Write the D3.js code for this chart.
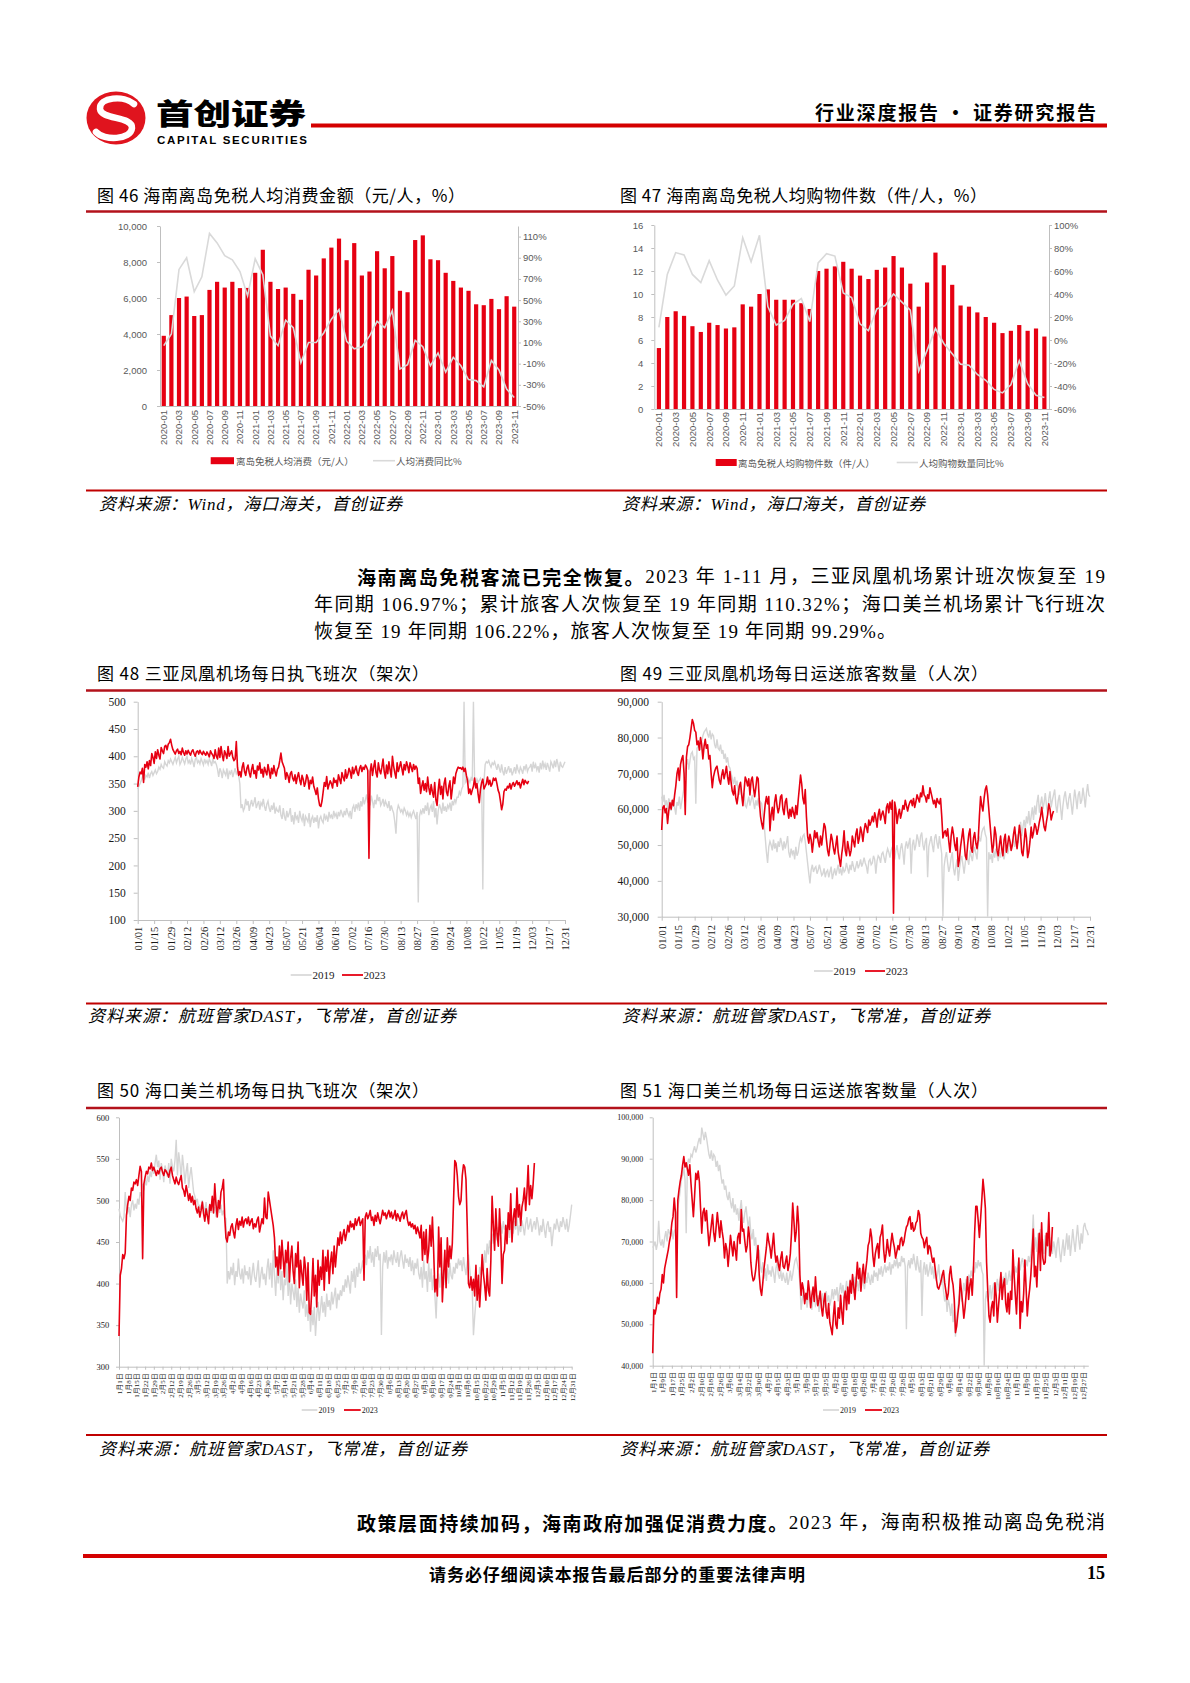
<!DOCTYPE html>
<html><head><meta charset="utf-8">
<script src="https://cdn.jsdelivr.net/npm/d3@7"></script>
<style>body{margin:0;background:#fff;} svg{display:block;}</style>
</head><body>
<script>
// ---------------- DATA ----------------
const months = ["2020-01","2020-02","2020-03","2020-04","2020-05","2020-06","2020-07","2020-08","2020-09","2020-10","2020-11","2020-12",
"2021-01","2021-02","2021-03","2021-04","2021-05","2021-06","2021-07","2021-08","2021-09","2021-10","2021-11","2021-12",
"2022-01","2022-02","2022-03","2022-04","2022-05","2022-06","2022-07","2022-08","2022-09","2022-10","2022-11","2022-12",
"2023-01","2023-02","2023-03","2023-04","2023-05","2023-06","2023-07","2023-08","2023-09","2023-10","2023-11"];
const spendPerCap = [3900,5050,6000,6080,5000,5050,6450,6900,6580,6900,6550,6560,7400,8680,6900,6500,6580,6230,5900,7570,7250,8200,8800,9300,8100,9050,7250,7470,8600,7650,8330,6400,6320,9220,9480,8150,8100,7400,6950,6580,6400,5650,5600,5950,5380,6100,5520];
const spendYoY = [7,18,79,90,58,72,113,104,92,88,77,54,89,74,16,7,31,24,-9,10,10,19,32,41,11,4,6,16,30,24,40,-15,-11,12,6,-12,0,-18,-4,-12,-25,-26,-32,-7,-16,-34,-42];
const itemsPerCap = [5.3,8.0,8.5,8.1,7.2,6.7,7.5,7.3,7.0,7.1,9.1,8.9,10.0,10.4,9.5,9.5,9.5,9.2,8.7,12.0,12.2,12.4,12.8,12.2,11.6,11.3,12.1,12.3,13.3,12.3,10.9,8.9,11.0,13.6,12.5,10.8,9.0,8.9,8.4,8.0,7.5,6.6,6.8,7.3,6.8,7.0,6.3];
const itemsYoY = [11,57,76,74,57,50,69,52,39,47,89,68,91,29,13,17,31,36,16,67,75,73,41,37,14,8,27,30,40,33,26,-27,-9,10,-3,-12,-21,-22,-30,-35,-43,-46,-39,-18,-38,-48,-50];

const ticks48 = ["01/01","01/15","01/29","02/12","02/26","03/12","03/26","04/09","04/23","05/07","05/21","06/04","06/18","07/02","07/16","07/30","08/13","08/27","09/10","09/24","10/08","10/22","11/05","11/19","12/03","12/17","12/31"];
const ticks50 = ["1月1日","1月8日","1月15日","1月22日","1月29日","2月5日","2月12日","2月19日","2月26日","3月5日","3月12日","3月19日","3月26日","4月2日","4月9日","4月16日","4月23日","4月30日","5月7日","5月14日","5月21日","5月28日","6月4日","6月11日","6月18日","6月25日","7月2日","7月9日","7月16日","7月23日","7月30日","8月6日","8月13日","8月20日","8月27日","9月3日","9月10日","9月17日","9月24日","10月1日","10月8日","10月15日","10月22日","10月29日","11月5日","11月12日","11月19日","11月26日","12月3日","12月10日","12月17日","12月24日","12月31日"];
const ticks51 = ["1月1日","1月9日","1月17日","1月25日","2月2日","2月10日","2月18日","2月26日","3月6日","3月14日","3月22日","3月30日","4月7日","4月15日","4月23日","5月1日","5月9日","5月17日","5月25日","6月2日","6月10日","6月18日","6月26日","7月4日","7月12日","7月20日","7月28日","8月5日","8月13日","8月21日","8月29日","9月6日","9月14日","9月22日","9月30日","10月8日","10月16日","10月24日","11月1日","11月9日","11月17日","11月25日","12月3日","12月11日","12月19日","12月27日"];

// daily values, one inner array per month
const sanyaFlights2019 = [
[340,345,350,355,362,360,358,365,362,370,360,368,372,365,370,375,368,372,380,376,385,380,378,390,385,382,392,388,395,390,385],
[392,398,388,395,400,385,390,398,392,386,395,400,388,392,385,396,390,380,394,398,388,392,386,396,390,384,395,388],
[392,385,395,390,382,396,388,390,385,376,362,378,372,360,375,370,365,378,358,372,368,375,362,370,378,368,372,365,350,305,312],
[300,305,322,310,318,300,312,320,308,315,325,305,312,318,302,315,310,322,308,300,312,318,305,298,310,302,315,295,305,300],
[298,310,292,285,305,290,282,300,288,295,305,280,292,275,298,285,290,278,300,288,282,295,272,290,285,280,296,270,285,290,278],
[288,280,292,268,285,290,282,278,295,285,290,280,298,288,292,285,300,290,295,285,298,290,302,295,288,300,292,305,296,290],
[300,285,305,310,298,312,305,315,300,318,308,325,312,320,330,315,322,310,328,318,305,320,312,330,318,325,310,315,322,308,318],
[312,305,318,300,310,302,296,280,258,300,310,305,298,302,295,305,300,292,298,290,296,288,295,300,292,285,298,132,290,300,295],
[305,295,310,300,315,292,305,310,298,318,288,305,275,300,312,305,295,315,300,308,298,310,305,315,300,318,310,322,315,325],
[325,335,330,340,345,500,352,356,350,358,352,360,355,500,355,350,358,352,356,360,354,156,355,385,390,388,392,385,380,388,385],
[390,382,375,386,378,370,385,372,365,380,368,375,382,370,378,365,372,380,368,385,375,370,380,375,368,382,376,385,372,378],
[380,386,372,390,378,385,375,382,370,388,376,392,380,386,375,388,380,372,390,385,378,392,380,395,385,372,390,382,380,385,390]];
const sanyaFlights2023 = [
[344,362,371,368,378,352,385,380,390,377,392,383,405,398,387,408,396,412,402,395,416,410,405,418,420,412,422,425,431,420,412],
[408,404,410,413,405,409,403,415,407,402,410,404,411,406,402,409,412,405,400,408,410,404,411,406,403,409,405,402],
[408,404,399,410,405,402,396,412,400,395,415,398,418,402,392,410,404,396,418,400,405,410,398,392,395,427,380,365,372,362,380],
[388,372,365,378,384,370,362,376,385,368,374,360,382,375,388,369,376,362,380,372,366,385,373,360,378,368,383,371,364,376],
[380,392,406,390,384,378,358,370,364,352,368,372,360,355,366,350,362,370,357,348,365,358,345,352,366,360,340,356,350,362,345],
[338,330,342,322,310,308,318,335,352,345,363,340,348,355,350,342,360,352,356,345,366,358,350,370,362,355,375,360,366,378],
[372,360,380,368,375,382,370,365,378,383,372,380,376,384,380,374,213,372,386,365,380,392,370,362,388,375,368,380,395,372,360],
[384,368,390,375,362,400,382,370,360,388,372,380,390,378,366,385,375,390,382,370,388,380,372,385,376,382,378,350,360,332,345],
[355,338,350,335,362,342,330,348,335,325,352,320,310,338,358,330,345,322,350,360,335,328,345,355,322,340,362,350,368,375],
[380,378,379,376,380,372,378,365,355,332,340,330,338,345,360,342,350,330,315,340,352,358,340,345,350,362,348,356,345,350,360],
[356,360,350,338,332,318,302,312,335,340,338,345,342,350,340,348,352,345,350,355,348,352,342,350,358,348,356,352,350,355]];

// passengers in thousands
const sanyaPax2019 = [
[63.5,62.0,64.0,61.0,62.5,60.0,63.0,62.0,59.5,61.5,63.0,60.5,58.5,62.0,61.0,63.5,60.0,62.0,64.0,66.0,70.0,72.5,74.0,71.0,73.5,75.5,76.0,74.0,74.5,61.5,77.0],
[77.5,78.0,76.5,79.0,80.5,81.5,82.0,82.5,81.0,80.0,82.0,79.5,81.0,80.5,78.0,77.0,79.5,77.0,76.5,78.0,75.5,76.5,74.0,75.5,73.0,74.5,72.0,71.5],
[70.0,68.5,67.0,69.0,66.5,68.0,65.0,64.0,66.5,63.5,62.0,64.5,61.0,60.5,62.0,63.5,61.0,62.5,64.0,62.0,60.0,62.5,61.0,63.0,60.5,62.0,61.5,58.0,56.0,52.0,48.0],
[45.0,49.5,51.0,50.0,48.5,51.5,49.0,50.5,48.0,51.0,49.5,52.0,50.5,48.5,51.0,49.0,50.5,52.5,48.0,46.5,49.0,47.5,48.5,46.0,49.5,47.0,48.0,50.5,52.0,51.0],
[52.5,53.0,51.0,48.0,45.0,42.0,39.3,43.0,44.5,42.5,43.5,44.0,42.0,43.0,44.5,43.0,41.5,42.0,43.5,41.0,42.5,43.0,41.0,42.5,44.0,40.5,42.0,43.5,41.5,43.0,44.5],
[42.0,43.5,41.5,44.0,42.5,43.0,45.0,43.5,42.0,44.5,43.0,45.5,44.0,42.5,44.0,45.5,43.5,44.5,46.0,44.0,45.0,46.5,45.0,44.0,42.0,45.5,46.0,44.5,45.0,47.0],
[46.0,42.0,45.5,47.0,46.5,45.0,47.5,48.0,46.5,45.0,47.5,49.0,48.0,46.5,48.5,49.5,47.0,46.0,48.5,50.0,47.5,46.0,49.0,50.5,48.0,44.5,49.5,51.0,49.0,50.5,52.0],
[42.0,50.0,51.5,48.5,50.0,53.0,51.5,49.5,52.5,53.5,50.0,48.5,51.0,52.0,41.0,49.5,51.0,52.5,50.0,48.0,52.0,53.0,50.5,49.0,52.5,50.0,47.5,30.0,44.0,46.5,48.0],
[45.0,42.5,44.0,46.5,48.0,43.5,41.5,44.0,46.0,40.0,43.0,45.5,47.0,44.5,42.0,45.0,47.5,46.0,44.5,48.5,47.0,45.5,48.0,49.5,47.5,46.0,50.5,52.0,51.0,53.5],
[54.5,55.0,53.0,52.0,30.0,48.0,46.0,47.5,45.0,48.5,46.5,49.0,47.0,45.5,48.0,46.5,49.5,47.0,46.0,48.5,50.0,47.5,49.0,51.0,48.5,50.5,52.0,49.5,51.5,53.0,50.5],
[54.0,56.5,52.5,55.0,57.0,54.5,58.0,56.0,59.5,55.5,58.0,60.5,57.0,61.0,58.5,62.0,64.0,59.0,61.5,63.5,60.0,62.0,64.5,61.0,58.5,63.0,65.0,60.5,62.5,64.0],
[65.5,61.0,59.0,62.5,64.0,60.5,57.0,61.0,63.5,65.0,62.0,60.0,63.0,64.5,61.5,58.5,62.0,65.5,63.0,60.0,64.0,65.0,61.5,62.5,66.0,63.5,60.5,64.5,67.0,64.0,63.5]];
const sanyaPax2023 = [
[54.2,60.5,61.0,59.0,60.2,56.0,59.5,61.8,60.0,62.5,61.0,64.0,66.5,70.0,71.5,68.0,72.5,74.0,75.0,70.0,58.5,74.5,77.5,78.0,80.0,82.5,85.0,84.0,82.0,81.5,78.0],
[79.0,76.5,80.0,78.0,74.0,77.5,79.5,77.0,78.0,74.0,75.0,70.0,66.0,69.0,70.5,71.5,72.0,70.0,68.0,67.0,69.5,71.0,68.5,70.0,72.0,69.0,67.0,70.5],
[67.5,65.0,64.0,66.5,63.0,61.5,64.0,66.5,67.5,64.0,61.0,65.0,69.0,68.0,66.5,68.5,64.0,68.0,69.0,66.0,63.5,66.0,69.0,68.5,62.0,58.0,56.0,54.5,58.0,61.5,63.5],
[61.5,63.5,54.0,58.5,60.5,57.0,62.0,64.0,61.0,59.0,60.5,63.5,64.0,60.0,58.5,62.0,63.0,59.5,57.5,60.0,58.0,60.5,59.0,57.5,61.0,58.5,62.5,66.0,69.5,67.0],
[63.0,61.5,65.5,58.0,52.5,50.5,53.0,51.5,48.0,51.0,54.0,52.0,53.5,51.0,49.5,52.5,50.0,53.0,56.0,55.0,51.5,48.5,47.0,50.0,53.0,51.5,49.0,47.5,50.0,52.5,48.0],
[46.0,44.0,47.5,50.0,54.0,48.5,47.0,51.0,49.0,47.0,48.5,52.5,51.0,49.5,53.0,54.5,50.5,52.0,55.0,53.5,51.0,54.0,56.0,55.0,53.5,57.0,55.5,56.5,58.0,56.5],
[59.0,57.5,55.0,58.5,60.0,57.0,58.5,59.5,58.0,56.0,60.5,61.5,59.0,62.0,60.0,62.5,31.0,62.0,60.0,56.0,58.5,60.0,57.5,59.0,61.0,60.0,62.5,61.0,59.5,61.0,62.0],
[62.5,61.0,63.0,60.5,62.0,64.0,63.0,62.0,64.5,63.5,66.5,64.0,63.5,62.0,64.0,63.0,66.0,64.5,63.0,61.5,62.5,60.5,63.0,62.0,61.5,63.0,58.0,52.0,53.5,54.0,52.5],
[54.5,51.0,48.0,52.5,55.0,53.0,50.0,48.5,52.0,44.0,46.0,49.5,52.0,54.5,51.0,47.0,46.0,50.0,53.0,54.5,49.0,48.0,52.0,53.5,50.5,49.0,51.5,58.0,63.5,61.0],
[59.5,63.0,65.5,66.5,64.0,60.0,56.0,52.0,48.0,50.0,55.0,53.0,48.5,47.0,50.0,52.5,49.0,47.0,51.5,53.0,48.0,50.0,52.5,51.0,48.5,50.0,53.0,55.0,51.5,49.0,52.0],
[55.5,53.0,48.0,47.0,50.5,54.5,52.0,46.5,48.0,51.0,55.0,52.0,53.5,56.0,55.0,53.0,54.5,56.5,58.0,60.5,57.5,55.0,54.0,56.5,58.5,61.5,60.0,57.0,58.5,59.5]];

const haikouFlights2019 = [
[490,482,478,475,480,510,488,485,492,480,495,500,488,496,490,502,495,510,505,520,512,525,518,530,522,535,528,540,532,545,555],
[540,548,525,545,538,522,542,535,528,545,520,550,540,535,548,573,530,558,545,525,555,540,520,535,545,515,530,540],
[525,510,505,498,502,490,495,488,500,492,485,498,480,490,495,485,502,488,492,480,498,490,485,495,482,488,480,478,400,415,405],
[420,410,425,398,415,408,430,412,405,418,400,422,410,415,405,420,398,412,425,408,402,415,428,395,410,420,405,412,398,418],
[430,405,425,395,440,410,385,420,400,430,392,415,380,405,398,425,385,410,375,400,390,380,405,372,395,365,388,378,370,392,360],
[375,355,380,342,368,350,372,337,362,378,355,370,385,365,378,360,388,372,380,368,390,375,385,395,370,388,380,392,385,398],
[390,405,395,410,400,388,415,402,418,395,420,408,425,412,418,428,410,435,422,440,430,445,425,438,420,442,432,445,428,436,338],
[420,438,425,440,418,432,428,435,422,440,430,425,438,420,432,440,428,418,435,425,430,420,432,415,428,410,425,418,430,412,405],
[420,395,428,405,415,390,425,402,418,392,410,385,358,400,412,395,420,405,398,415,402,418,400,425,410,405,420,412,425,418],
[430,422,428,415,432,420,410,425,435,418,402,395,338,360,380,405,395,420,410,432,415,440,425,448,435,452,440,460,448,455,465],
[452,468,458,472,460,475,465,470,462,478,455,468,472,460,475,465,480,458,470,462,476,468,458,472,480,465,470,478,462,470],
[475,465,480,472,458,470,462,478,465,455,470,475,462,468,445,460,472,465,478,470,462,475,468,480,472,465,478,462,470,482,495]];
const haikouFlights2023 = [
[337,410,418,435,430,437,482,495,505,500,515,512,522,520,525,518,530,541,535,430,520,528,535,532,540,538,545,536,540,535,530],
[536,532,538,540,534,530,537,535,532,528,536,540,530,525,520,528,522,519,525,530,515,512,505,518,510,500,508,498],
[505,495,500,490,485,492,480,488,498,484,475,490,482,472,495,488,505,485,520,495,480,500,490,510,515,525,480,455,450,462,458],
[468,472,462,455,470,478,465,475,470,480,468,476,478,472,480,470,475,478,466,472,468,476,480,462,470,478,472,503,480,478],
[510,500,490,480,470,455,420,432,410,445,418,452,430,408,440,425,450,402,430,445,415,400,436,420,450,395,428,412,398,432,418],
[380,425,365,363,392,430,385,410,372,428,398,420,405,440,392,432,415,440,400,425,438,412,445,420,438,455,446,462,448,458],
[465,452,460,470,462,475,468,472,465,478,470,476,480,470,474,478,404,480,485,478,482,488,476,480,470,482,475,485,478,472,480],
[488,482,485,478,484,488,480,486,478,482,488,476,484,480,475,482,486,478,484,488,476,470,474,468,472,466,470,460,468,462,455],
[470,428,462,435,465,425,440,470,445,480,440,390,405,385,468,420,455,378,410,440,395,455,420,445,430,448,500,548,545,530],
[505,495,500,530,543,540,525,470,400,395,408,392,405,385,422,380,410,372,400,435,412,398,380,418,392,385,428,505,470,440,490],
[460,445,490,455,400,435,440,470,448,485,465,508,450,478,490,470,515,480,495,470,492,500,515,488,510,542,495,518,502,520],
[545]];

const haikouPax2019 = [
[68.5,69.0,70.0,68.0,69.5,75.0,70.0,69.0,70.5,68.5,71.0,72.5,70.0,73.0,72.0,71.5,73.0,70.5,72.5,73.0,77.0,78.5,80.0,82.5,85.0,86.0,88.0,85.0,72.0,88.5,90.0],
[89.0,91.0,90.5,92.0,93.0,91.5,92.5,94.0,95.0,93.5,97.5,96.0,94.5,96.5,95.0,93.0,91.0,90.0,92.0,89.5,91.0,90.5,88.0,89.5,87.0,88.5,86.0,84.0],
[85.0,82.5,83.5,81.0,80.0,82.0,79.5,78.0,80.5,77.0,79.0,76.5,78.0,75.0,77.5,80.0,76.0,74.5,77.0,78.5,75.5,73.0,76.0,72.0,70.5,73.0,69.0,71.0,67.0,65.5,68.0],
[64.0,62.5,65.0,61.0,63.5,60.5,64.5,62.0,63.0,61.5,64.0,62.5,60.0,63.5,65.0,62.0,61.0,63.0,60.5,62.5,61.0,60.0,62.5,59.5,61.0,63.0,60.5,62.0,64.0,65.5],
[66.0,64.5,63.0,60.0,53.5,56.0,58.0,55.5,57.0,54.0,56.5,58.0,55.0,53.5,56.0,57.5,54.5,55.0,57.0,53.0,56.5,55.0,57.5,54.0,56.0,58.0,55.5,57.0,54.5,56.0,58.5],
[56.0,58.5,57.0,59.0,55.5,58.0,60.0,57.5,59.5,56.5,58.0,60.5,57.0,59.0,61.0,58.5,60.0,57.5,61.5,59.0,60.5,58.0,61.0,59.5,62.0,60.0,58.5,61.5,60.0,62.5],
[61.0,59.5,62.0,60.0,63.0,61.5,62.5,60.5,63.5,62.0,64.0,61.5,63.0,64.5,62.5,64.0,63.0,65.0,62.0,64.5,63.5,65.5,64.0,66.0,63.5,65.0,64.0,66.5,65.0,66.0,64.0],
[48.8,64.0,65.5,63.5,66.0,64.5,67.0,65.0,63.0,66.5,64.0,62.5,65.5,52.0,63.0,65.0,62.0,64.5,61.5,63.0,65.0,62.0,64.0,61.0,63.5,60.5,62.0,64.5,61.0,59.5,62.0],
[58.0,55.5,57.0,53.0,56.0,54.5,52.0,55.0,50.5,53.5,47.0,51.0,54.0,56.5,58.0,55.5,57.5,60.0,58.0,61.0,59.5,62.0,60.5,63.0,61.5,64.0,62.5,65.0,63.5,65.5],
[64.0,65.0,63.0,62.0,40.0,56.0,58.0,55.5,57.0,59.5,56.0,58.5,60.0,57.0,59.0,61.0,58.0,60.5,62.0,59.0,61.5,60.0,62.5,59.5,61.0,63.0,60.5,62.0,63.5,61.0,64.0],
[62.5,64.0,65.5,63.0,65.0,66.0,64.0,63.5,65.5,64.0,66.5,65.0,67.0,70.0,76.5,68.0,71.0,67.5,72.0,69.0,73.0,68.0,70.5,67.0,71.5,69.0,72.5,66.5,68.5,71.0],
[67.0,70.0,68.5,66.0,69.5,71.0,67.5,65.0,68.0,70.5,66.5,69.0,72.0,68.0,71.5,66.5,69.5,73.0,70.0,67.5,71.0,74.0,70.5,68.0,72.0,69.5,73.5,74.5,73.0,72.5,71.5]];
const haikouPax2023 = [
[43.0,53.5,52.5,54.0,56.5,55.0,57.5,58.5,62.0,60.0,63.5,65.0,66.5,68.0,70.0,71.5,74.5,76.0,80.5,77.0,56.5,80.0,82.5,84.5,86.0,88.5,90.5,88.0,89.0,87.5,86.0],
[88.5,84.0,80.0,76.0,81.0,86.5,85.0,87.0,84.5,78.0,72.0,77.0,78.0,75.0,77.5,73.0,69.0,71.5,74.0,76.5,72.0,70.0,73.5,77.0,74.0,71.0,75.0,72.5],
[70.5,66.0,69.5,68.0,64.0,67.5,71.5,69.0,66.5,70.0,68.0,65.5,71.0,72.0,69.5,77.7,72.5,73.0,70.0,67.5,69.0,73.5,71.0,65.0,62.0,60.5,61.0,63.0,66.0,69.0,62.0],
[58.5,57.0,60.0,63.5,66.0,68.5,72.0,70.0,68.5,66.0,69.0,72.0,67.5,65.0,66.5,64.5,63.0,66.0,67.5,64.0,63.5,65.0,66.5,63.0,64.5,67.0,72.0,79.3,75.0,70.0],
[72.5,78.5,74.0,62.0,57.0,60.0,58.5,55.0,57.5,56.0,60.5,58.0,54.0,57.0,59.0,55.5,61.5,57.0,54.5,56.0,58.0,54.0,52.0,55.5,57.5,53.0,51.5,55.0,50.5,49.0,47.5],
[52.0,55.5,50.0,49.0,54.0,51.5,57.0,53.0,50.0,56.5,58.0,53.5,59.0,55.0,60.5,57.5,62.0,59.0,56.0,60.5,65.0,61.0,63.5,58.0,62.0,64.5,60.0,63.0,65.5,69.0],
[70.0,73.0,71.0,66.5,64.0,67.0,68.5,69.5,66.0,71.0,72.0,74.0,68.0,65.0,67.0,70.5,68.0,66.5,69.5,72.0,70.0,68.5,66.0,67.5,69.0,68.0,70.5,71.0,69.0,70.0,72.0],
[73.5,74.0,75.5,76.0,73.0,74.5,72.5,73.0,74.5,75.0,77.5,76.5,72.0,71.0,70.5,68.5,70.0,71.0,67.0,69.0,68.5,66.5,65.0,66.0,63.5,61.0,59.0,58.5,59.5,60.5,62.0],
[63.0,60.0,58.0,56.0,57.5,62.0,64.0,61.0,59.5,56.0,48.0,49.5,52.5,55.0,61.0,58.0,55.0,51.5,54.0,57.5,61.5,56.0,59.5,61.0,57.0,63.0,72.0,78.5,78.5,75.0],
[71.0,75.5,80.0,85.0,82.0,78.0,65.0,58.0,52.0,50.5,54.0,55.5,52.0,60.0,57.0,50.5,54.5,58.0,62.5,56.0,59.5,61.0,55.0,53.0,57.5,52.5,58.0,56.0,68.0,62.0,57.0],
[52.5,60.0,66.0,49.0,55.5,53.0,57.5,65.5,59.0,52.0,56.0,58.5,62.0,67.0,73.0,61.5,64.0,59.0,66.5,72.0,63.0,74.5,66.0,64.5,65.0,72.0,69.0,77.0,66.5,68.0],
[73.5]];

// ---------------- DRAW ----------------
const W = 1190, H = 1683;
const svg = d3.select("body").append("svg").attr("width", W).attr("height", H);
svg.append("rect").attr("width", W).attr("height", H).attr("fill", "#fff");
const CJK = '"Noto Sans CJK SC","Noto Sans",sans-serif';
const SERIF = '"Liberation Serif","Times New Roman","Noto Sans CJK SC",serif';
const SANS = '"Liberation Sans",Arial,"Noto Sans CJK SC",sans-serif';
const RED = "#e60012", GRAY = "#d5d5d5";

function txt(x, y, s, o = {}) {
  const t = svg.append("text").attr("x", x).attr("y", y).text(s)
    .attr("font-family", o.ff || CJK).attr("font-size", o.fs || 16)
    .attr("font-weight", o.fw || 400).attr("fill", o.fill || "#000")
    .attr("dominant-baseline", "central").attr("text-anchor", o.anchor || "start");
  if (o.italic) t.attr("font-style", "italic");
  if (o.len) t.attr("textLength", o.len).attr("lengthAdjust", o.adj || "spacing");
  return t;
}

// header logo
const logo = svg.append("g");
logo.append("ellipse").attr("cx", 116).attr("cy", 118).attr("rx", 29.5).attr("ry", 26.5).attr("fill", "#e0141e");
logo.append("path").attr("d", "M 134 104 C 124 95, 99 97, 100 109 C 101 120, 133 116, 132 128 C 131 140, 104 141, 96 132")
  .attr("fill", "none").attr("stroke", "#fff").attr("stroke-width", 6.5).attr("stroke-linecap", "round");
txt(156, 112, "首创证券", {fs: 29, fw: 900, len: 150, adj: "spacingAndGlyphs"});
txt(157, 140, "CAPITAL SECURITIES", {ff: SANS, fs: 11.5, fw: 700, len: 150});
svg.append("rect").attr("x", 311).attr("y", 123.5).attr("width", 796).attr("height", 4).attr("fill", "#d40000");
txt(1096, 111, "行业深度报告 · 证券研究报告", {fs: 19, fw: 700, anchor: "end", len: 281});

// section lines
function hline(y, w, c) {
  svg.append("line").attr("x1", 86).attr("x2", 1107).attr("y1", y).attr("y2", y).attr("stroke", c).attr("stroke-width", w);
}
[[211.5, 490.5], [690.5, 1003.5], [1108, 1435]].forEach(([a, b]) => { hline(a, 2.5, "#b3121b"); hline(b, 2, "#c00000"); });

// titles
const titleY = [194.2, 672.8, 1089.2];
txt(97, titleY[0], "图 46 海南离岛免税人均消费金额（元/人，%）", {fs: 17, len: 368});
txt(620, titleY[0], "图 47 海南离岛免税人均购物件数（件/人，%）", {fs: 17, len: 367});
txt(97, titleY[1], "图 48 三亚凤凰机场每日执飞班次（架次）", {fs: 17, len: 332});
txt(620, titleY[1], "图 49 三亚凤凰机场每日运送旅客数量（人次）", {fs: 17, len: 368});
txt(97, titleY[2], "图 50 海口美兰机场每日执飞班次（架次）", {fs: 17, len: 332});
txt(620, titleY[2], "图 51 海口美兰机场每日运送旅客数量（人次）", {fs: 17, len: 368});

// sources
const srcA = "资料来源：Wind，海口海关，首创证券", srcB = "资料来源：航班管家DAST，飞常准，首创证券";
const so = {ff: SERIF, fs: 17, italic: true};
txt(99, 504, srcA, {...so, len: 303});
txt(622, 504, srcA, {...so, len: 303});
txt(88, 1016, srcB, {...so, len: 368});
txt(622, 1016, srcB, {...so, len: 368});
txt(99, 1449, srcB, {...so, len: 368});
txt(620, 1449, srcB, {...so, len: 369});

// paragraphs
function para(x, y, len, parts) {
  const t = svg.append("text").attr("x", x).attr("y", y).attr("dominant-baseline", "central")
    .attr("font-size", 19).attr("font-family", SERIF).attr("fill", "#000");
  parts.forEach(([s, b]) => t.append("tspan").text(s).attr("font-weight", b ? 700 : 400).attr("font-family", b ? CJK : SERIF));
  if (len) t.attr("textLength", len).attr("lengthAdjust", "spacing");
}
para(357, 576.3, 748, [["海南离岛免税客流已完全恢复。", true], ["2023 年 1-11 月，三亚凤凰机场累计班次恢复至 19", false]]);
para(314, 604.2, 791, [["年同期 106.97%；累计旅客人次恢复至 19 年同期 110.32%；海口美兰机场累计飞行班次", false]]);
para(314, 631, 582, [["恢复至 19 年同期 106.22%，旅客人次恢复至 19 年同期 99.29%。", false]]);
para(357, 1521.7, 748, [["政策层面持续加码，海南政府加强促消费力度。", true], ["2023 年，海南积极推动离岛免税消", false]]);

// footer
svg.append("rect").attr("x", 83).attr("y", 1554).attr("width", 1024).attr("height", 4).attr("fill", "#d40000");
txt(617, 1573, "请务必仔细阅读本报告最后部分的重要法律声明", {fs: 17, fw: 700, anchor: "middle", len: 376});
txt(1105, 1573, "15", {ff: SERIF, fs: 18, fw: 700, anchor: "end"});

// axis styling helper
function styleAxis(g, color, fs, ff) {
  g.selectAll(".domain").attr("stroke", "#bfbfbf").attr("stroke-width", 1);
  g.selectAll(".tick line").attr("stroke", "#bfbfbf");
  g.selectAll("text").attr("fill", color).attr("font-size", fs).attr("font-family", ff);
}

// ---- bar + line charts ----
function barLine(o) {
  const g = svg.append("g");
  const x = d3.scaleBand().domain(months).range([o.x0, o.x1]).paddingInner(o.pi).paddingOuter(o.po);
  const yL = d3.scaleLinear().domain(o.lDom).range([o.yB, o.yT]);
  const yR = d3.scaleLinear().domain(o.rDom).range([o.yB, o.yT]);
  const ax = g.append("g").attr("transform", `translate(${o.x0},0)`)
    .call(d3.axisLeft(yL).tickValues(o.lTicks).tickFormat(o.lFmt).tickSize(3).tickPadding(o.lPad).tickSizeOuter(0));
  styleAxis(ax, "#595959", 9.5, SANS);
  const ar = g.append("g").attr("transform", `translate(${o.x1},0)`)
    .call(d3.axisRight(yR).tickValues(o.rTicks).tickFormat(d => d + "%").tickSize(3).tickPadding(2).tickSizeOuter(0));
  styleAxis(ar, "#595959", 9.5, SANS);
  const ab = g.append("g").attr("transform", `translate(0,${o.yB})`)
    .call(d3.axisBottom(x).tickValues(months.filter((m, i) => i % 2 === 0)).tickSize(0).tickPadding(0).tickSizeOuter(0));
  styleAxis(ab, "#595959", 9.5, SANS);
  ab.selectAll("text").attr("transform", "rotate(-90)").attr("text-anchor", "end")
    .attr("x", -o.xPad).attr("y", 0).attr("dy", "0.35em");
  g.append("g").selectAll("rect").data(o.bars).join("rect")
    .attr("x", (d, i) => x(months[i])).attr("width", x.bandwidth())
    .attr("y", d => yL(d)).attr("height", d => yL(0) - yL(d)).attr("fill", RED);
  const line = d3.line().x((d, i) => x(months[i]) + x.bandwidth() / 2).y(d => yR(d));
  g.append("path").datum(o.line).attr("d", line).attr("fill", "none").attr("stroke", "#d9d9d9").attr("stroke-width", 1.6);
  // legend
  g.append("rect").attr("x", o.lg[0]).attr("y", o.lgY - 3.5).attr("width", o.lg[1] - o.lg[0]).attr("height", 7).attr("fill", RED);
  g.append("text").attr("x", o.lg[2]).attr("y", o.lgY).attr("dominant-baseline", "central").attr("font-size", 9.5)
    .attr("font-family", CJK).attr("fill", "#595959").text(o.lgText[0]);
  g.append("line").attr("x1", o.lg[3]).attr("x2", o.lg[4]).attr("y1", o.lgY).attr("y2", o.lgY).attr("stroke", "#d9d9d9").attr("stroke-width", 1.6);
  g.append("text").attr("x", o.lg[5]).attr("y", o.lgY).attr("dominant-baseline", "central").attr("font-size", 9.5)
    .attr("font-family", CJK).attr("fill", "#595959").text(o.lgText[1]);
}

barLine({x0: 160, x1: 518, yT: 226, yB: 406, pi: 0.45, po: 0.22,
  lDom: [0, 10000], lTicks: [0, 2000, 4000, 6000, 8000, 10000], lFmt: d3.format(","), lPad: 10,
  rDom: [-50, 120], rTicks: [-50, -30, -10, 10, 30, 50, 70, 90, 110], xPad: 4,
  bars: spendPerCap, line: spendYoY, lgY: 460.7, lg: [210.7, 234, 236, 373, 395, 396],
  lgText: ["离岛免税人均消费（元/人）", "人均消费同比%"]});
barLine({x0: 654.3, x1: 1049, yT: 225, yB: 409, pi: 0.5, po: 0.3,
  lDom: [0, 16], lTicks: [0, 2, 4, 6, 8, 10, 12, 14, 16], lFmt: d3.format("d"), lPad: 8,
  rDom: [-60, 100], rTicks: [-60, -40, -20, 0, 20, 40, 60, 80, 100], xPad: 3,
  bars: itemsPerCap, line: itemsYoY, lgY: 462.5, lg: [715.7, 736.7, 738, 896.7, 918, 919],
  lgText: ["离岛免税人均购物件数（件/人）", "人均购物数量同比%"]});

// ---- daily line charts ----
function toPoints(monthArrays) {
  const pts = [];
  monthArrays.forEach((arr, m) => arr.forEach((v, d) => pts.push({date: new Date(2023, m, d + 1), v})));
  return pts;
}
function parseTick(s) {
  const m = s.match(/(\d+)\D+(\d+)/);
  return new Date(2023, +m[1] - 1, +m[2]);
}
function dailyChart(o) {
  const g = svg.append("g");
  const x = d3.scaleTime().domain([new Date(2023, 0, 1), new Date(2023, 11, 31)]).range([o.x0, o.x1]);
  const y = d3.scaleLinear().domain(o.yDom).range([o.yB, o.yT]);
  const ay = g.append("g").attr("transform", `translate(${o.x0},0)`)
    .call(d3.axisLeft(y).tickValues(o.yTicks).tickFormat(o.yFmt).tickSize(o.ts).tickPadding(o.yPad).tickSizeOuter(0));
  styleAxis(ay, "#1a1a1a", o.yFs, SERIF);
  const tickDates = o.ticks.map(parseTick);
  const ax = g.append("g").attr("transform", `translate(0,${o.yB})`)
    .call(d3.axisBottom(x).tickValues(tickDates).tickFormat((d, i) => o.ticks[i]).tickSize(o.ts).tickSizeOuter(0));
  styleAxis(ax, "#1a1a1a", o.xFs, SERIF);
  ax.selectAll("text").attr("transform", "rotate(-90)").attr("text-anchor", "end")
    .attr("x", -(o.ts + o.xPad)).attr("y", 0).attr("dy", "0.35em");
  const line = d3.line().x(d => x(d.date)).y(d => y(d.v));
  g.append("path").datum(toPoints(o.s2019)).attr("d", line).attr("fill", "none").attr("stroke", GRAY).attr("stroke-width", 1.4);
  g.append("path").datum(toPoints(o.s2023)).attr("d", line).attr("fill", "none").attr("stroke", RED).attr("stroke-width", 1.6).attr("stroke-linejoin", "round");
  const L = o.lg;
  g.append("line").attr("x1", L[0]).attr("x2", L[1]).attr("y1", o.lgY).attr("y2", o.lgY).attr("stroke", GRAY).attr("stroke-width", 1.6);
  g.append("text").attr("x", L[2]).attr("y", o.lgY).attr("dominant-baseline", "central").attr("font-size", o.lgFs).attr("font-family", SERIF).attr("fill", "#1a1a1a").text("2019");
  g.append("line").attr("x1", L[3]).attr("x2", L[4]).attr("y1", o.lgY).attr("y2", o.lgY).attr("stroke", RED).attr("stroke-width", 1.8);
  g.append("text").attr("x", L[5]).attr("y", o.lgY).attr("dominant-baseline", "central").attr("font-size", o.lgFs).attr("font-family", SERIF).attr("fill", "#1a1a1a").text("2023");
}
const kFmt = d => d3.format(",")(d * 1000);
dailyChart({x0: 137.7, x1: 565, yT: 701.7, yB: 920, yDom: [100, 500], yTicks: d3.range(100, 501, 50), yFmt: d3.format("d"),
  ts: 4, yPad: 8, yFs: 11.5, ticks: ticks48, xFs: 10.5, xPad: 2.7, s2019: sanyaFlights2019, s2023: sanyaFlights2023,
  lgY: 975, lg: [290.7, 311.7, 312.5, 342, 363, 363.5], lgFs: 11});
dailyChart({x0: 661.7, x1: 1090, yT: 701.7, yB: 916.7, yDom: [30, 90], yTicks: d3.range(30, 91, 10), yFmt: kFmt,
  ts: 4, yPad: 8.7, yFs: 11.5, ticks: ticks48, xFs: 10.5, xPad: 4.3, s2019: sanyaPax2019, s2023: sanyaPax2023,
  lgY: 971, lg: [814, 832.7, 833.5, 865, 885, 885.7], lgFs: 11});
dailyChart({x0: 119, x1: 571.7, yT: 1117.3, yB: 1366.7, yDom: [300, 600], yTicks: d3.range(300, 601, 50), yFmt: d3.format("d"),
  ts: 3, yPad: 6.7, yFs: 8.5, ticks: ticks50, xFs: 7, xPad: 3.6, s2019: haikouFlights2019, s2023: haikouFlights2023,
  lgY: 1410, lg: [301.7, 317.3, 318.5, 344, 360.7, 361.7], lgFs: 8});
dailyChart({x0: 652.7, x1: 1088.3, yT: 1117.3, yB: 1365.7, yDom: [40, 100], yTicks: d3.range(40, 101, 10), yFmt: kFmt,
  ts: 3, yPad: 6.4, yFs: 8, ticks: ticks51, xFs: 7, xPad: 3.3, s2019: haikouPax2019, s2023: haikouPax2023,
  lgY: 1410, lg: [823, 839, 840, 865, 882, 883], lgFs: 8});
</script>
</body></html>
